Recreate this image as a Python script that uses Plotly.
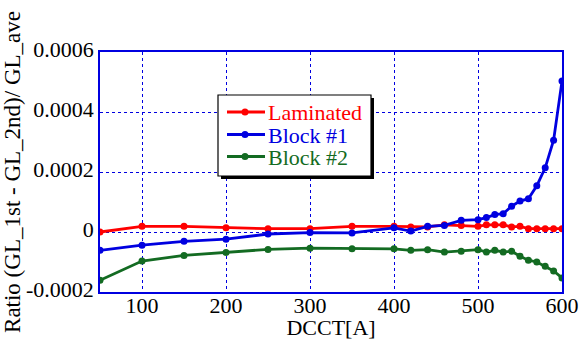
import plotly.graph_objects as go

# ---- data ----
dcct = [50, 100, 150, 200, 250, 300, 350, 400, 420, 440, 460, 480, 500,
        510, 520, 530, 540, 550, 560, 570, 580, 590, 600]
laminated = [0.0, 1.9e-5, 1.9e-5, 1.4e-5, 1.1e-5, 1.1e-5, 1.9e-5, 1.9e-5, 1.7e-5,
             1.7e-5, 2.4e-5, 2.2e-5, 1.9e-5, 2.4e-5, 2.4e-5, 2.4e-5, 1.7e-5,
             1.9e-5, 1.1e-5, 1.1e-5, 1.1e-5, 1.1e-5, 1.1e-5]
block1 = [-6.1e-5, -4.4e-5, -3.1e-5, -2.4e-5, -6.7e-6, -2e-6, -3e-6, 1.4e-5, 3e-6,
          1.9e-5, 2.2e-5, 3.9e-5, 4.1e-5, 4.8e-5, 5.8e-5, 6.1e-5, 8.6e-5,
          1.03e-4, 1.11e-4, 1.54e-4, 2.14e-4, 3.06e-4, 5.03e-4]
block2 = [-1.61e-4, -9.7e-5, -7.8e-5, -6.8e-5, -5.8e-5, -5.4e-5, -5.6e-5, -5.6e-5,
          -6.1e-5, -5.9e-5, -6.7e-5, -6.4e-5, -5.9e-5, -6.7e-5, -6.1e-5, -6.7e-5,
          -6.4e-5, -8.1e-5, -9.4e-5, -1.0e-4, -1.14e-4, -1.3e-4, -1.53e-4]

series_names = ["Laminated", "Block #1", "Block #2"]
series_colors = ["#ff0000", "#0000e0", "#136b22"]
x_ticks = [100, 200, 300, 400, 500, 600]
y_ticks = [-0.0002, 0, 0.0002, 0.0004, 0.0006]
y_ticklabels = ["-0.0002", "0", "0.0002", "0.0004", "0.0006"]

W, H = 579, 340
ML, MR, MT, MB = 100, 17, 52, 48
FONT = "Liberation Serif, Times New Roman, serif"

fig = go.Figure()
for name, ys, col in zip(series_names, [laminated, block1, block2], series_colors):
    fig.add_trace(go.Scatter(x=dcct, y=ys, mode="lines+markers", name=name,
                             line=dict(color=col, width=2.8),
                             marker=dict(color=col, size=7),
                             showlegend=False))

# helpers to place legend decorations in paper coordinates from pixels
pw, ph = W - ML - MR, H - MT - MB
def px(xp):
    return (xp - ML) / pw
def py(yp):
    return 1 - (yp - MT) / ph

shapes = []
# legend shadow and box
shapes.append(dict(type="rect", xref="paper", yref="paper",
                   x0=px(221), x1=px(374), y0=py(179), y1=py(98),
                   fillcolor="black", line=dict(width=0), layer="above"))
shapes.append(dict(type="rect", xref="paper", yref="paper",
                   x0=px(218), x1=px(371), y0=py(176), y1=py(95),
                   fillcolor="white", line=dict(color="black", width=1.2), layer="above"))
annotations = []
rows = [112, 134.5, 156.5]
for name, col, yr in zip(series_names, series_colors, rows):
    shapes.append(dict(type="line", xref="paper", yref="paper",
                       x0=px(227), x1=px(265), y0=py(yr), y1=py(yr),
                       line=dict(color=col, width=3), layer="above"))
    shapes.append(dict(type="circle", xref="paper", yref="paper",
                       x0=px(241.5), x1=px(248.5), y0=py(yr + 3.5), y1=py(yr - 3.5),
                       fillcolor=col, line=dict(color=col, width=0), layer="above"))
    annotations.append(dict(xref="paper", yref="paper", x=px(267), y=py(yr),
                            xanchor="left", yanchor="middle", showarrow=False,
                            height=22, borderpad=0,
                            text=name, font=dict(family=FONT, size=22, color=col)))

fig.update_layout(
    width=W, height=H,
    margin=dict(l=ML, r=MR, t=MT, b=MB),
    paper_bgcolor="white", plot_bgcolor="white",
    font=dict(family=FONT, size=22, color="black"),
    shapes=shapes, annotations=annotations,
)
fig.update_xaxes(range=[50, 600], tickvals=x_ticks, ticks="", automargin=False,
                 showline=True, linecolor="#0000e0", linewidth=1.5, mirror=True,
                 showgrid=True, gridcolor="#0000e0", griddash="dot", gridwidth=1,
                 zeroline=False, ticklabelstandoff=-7,
                 title=dict(text="DCCT[A]", font=dict(size=22), standoff=16))
fig.update_yaxes(range=[-0.0002, 0.0006], tickvals=y_ticks, ticktext=y_ticklabels,
                 ticks="", automargin=False, ticklabelshift=-3,
                 showline=True, linecolor="#0000e0", linewidth=1.5, mirror=True,
                 showgrid=True, gridcolor="#0000e0", griddash="dot", gridwidth=1,
                 zeroline=False,
                 title=dict(text="Ratio (GL_1st - GL_2nd)/ GL_ave", font=dict(size=23), standoff=0))

fig.write_html("out.html", config={"displayModeBar": False},
               post_script="document.body.style.margin='0';document.body.style.overflow='hidden';")
